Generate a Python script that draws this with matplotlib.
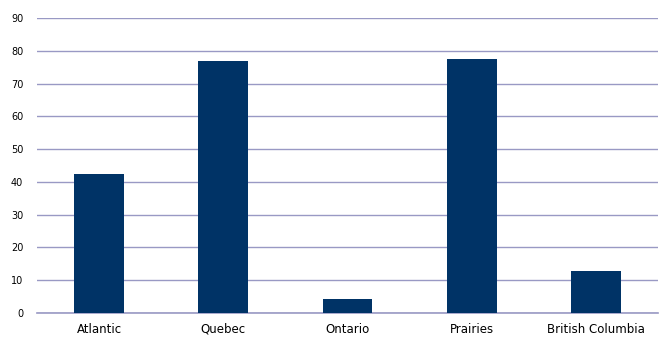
import matplotlib
matplotlib.use("Agg")
import matplotlib.pyplot as plt

# data
regions = ["Atlantic", "Quebec", "Ontario", "Prairies", "British Columbia"]
values = [42.3, 77.0, 4.3, 77.5, 12.8]
yticks = [0, 10, 20, 30, 40, 50, 60, 70, 80, 90]

BAR = "#003366"
GRID = "#9999c4"

fig = plt.figure(figsize=(6.61, 3.37), dpi=100, facecolor="white")
ax = fig.add_axes([0.056, 0.0712, 0.9395, 0.8754])

x = range(len(regions))
ax.bar(x, values, width=0.4, color=BAR, zorder=3)

ax.set_xlim(-0.5, len(regions) - 0.5)
ax.set_ylim(0, 90)
ax.set_yticks(yticks)
ax.set_xticks(list(x))
ax.set_xticklabels(regions, fontsize=8.5)
ax.tick_params(axis="y", labelsize=7, length=0, pad=10)
ax.tick_params(axis="x", length=0, pad=7)

ax.yaxis.grid(True, color=GRID, linewidth=1.0, zorder=0)
ax.axhline(0, color=GRID, linewidth=1.2, zorder=2, clip_on=False)
ax.set_axisbelow(True)
for s in ax.spines.values():
    s.set_visible(False)

fig.savefig("out.png", dpi=100, facecolor="white")
